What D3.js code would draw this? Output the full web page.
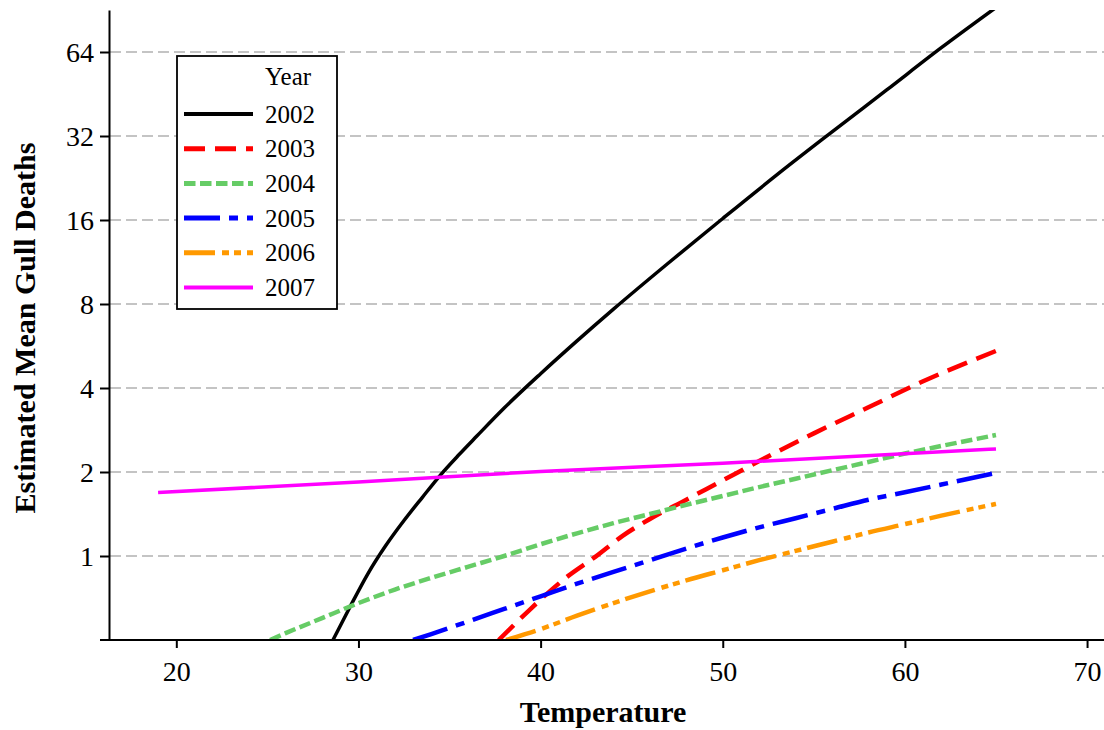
<!DOCTYPE html>
<html>
<head>
<meta charset="utf-8">
<script src="https://cdn.jsdelivr.net/npm/d3@7"></script>
<style>
  html, body { margin: 0; padding: 0; background: #fff; }
  svg { display: block; }
</style>
</head>
<body>
<svg id="chart" width="1104" height="730"></svg>
<script>
// Estimated mean gull deaths by temperature, one curve per year
const years = ["2002", "2003", "2004", "2005", "2006", "2007"];

const temp2002   = [28.6, 29.5, 30.5, 31.5, 32.5, 33.5, 34.5, 35.5, 36.5, 38, 40, 42, 44, 47, 50, 53, 56, 59, 62, 65];
const deaths2002 = [0.50, 0.65, 0.86, 1.09, 1.34, 1.62, 1.95, 2.30, 2.69, 3.39, 4.50, 5.90, 7.67, 11.2, 16.2, 23.3, 33.1, 46.8, 66.3, 92.4];

const temp2003   = [37.7, 38.5, 39.5, 40.5, 41.5, 43, 44.5, 46, 48, 50, 52, 55, 58, 61, 65];
const deaths2003 = [0.50, 0.563, 0.651, 0.747, 0.847, 0.993, 1.181, 1.357, 1.591, 1.866, 2.188, 2.751, 3.411, 4.228, 5.43];

const temp2004   = [25.15, 26, 28, 30, 32, 34, 36, 38, 40, 42, 44, 46, 48, 50, 52, 54, 56, 58, 60, 62, 65];
const deaths2004 = [0.500, 0.529, 0.599, 0.678, 0.758, 0.835, 0.914, 1.000, 1.102, 1.206, 1.311, 1.414, 1.526, 1.641, 1.766, 1.892, 2.028, 2.173, 2.329, 2.479, 2.713];

const temp2005   = [33, 34, 36, 38, 40, 42, 44, 46, 48, 50, 52, 54, 56, 58, 60, 62, 65];
const deaths2005 = [0.500, 0.525, 0.582, 0.646, 0.717, 0.796, 0.877, 0.966, 1.064, 1.165, 1.266, 1.366, 1.474, 1.591, 1.693, 1.803, 1.986];

const temp2006   = [38.1, 40, 42, 44, 46, 48, 50, 52, 54, 56, 58, 60, 62, 65];
const deaths2006 = [0.500, 0.547, 0.611, 0.678, 0.747, 0.818, 0.889, 0.966, 1.043, 1.125, 1.214, 1.301, 1.395, 1.537];

const temp2007   = [19, 30, 40, 50, 65];
const deaths2007 = [1.69, 1.84, 2.01, 2.15, 2.42];

const yTicks = [1, 2, 4, 8, 16, 32, 64];
const xTicks = [20, 30, 40, 50, 60, 70];

// line styles per year (same order as years)
const lineColors = ["#000000", "#ff0000", "#66cc66", "#0000ff", "#ff9900", "#ff00ff"];
const lineDashes = [null, "21,10", "11.5,4.5", "36,9,9,9", "31,7,7,5,7,6", null];
const lineWidths = [3.5, 4.5, 4.5, 4.5, 4.5, 3.5];

const seriesTemps  = [temp2002, temp2003, temp2004, temp2005, temp2006, temp2007];
const seriesDeaths = [deaths2002, deaths2003, deaths2004, deaths2005, deaths2006, deaths2007];

const series = years.map((yr, i) => ({
    year: yr,
    points: seriesTemps[i].map((t, j) => ({ t: t, v: seriesDeaths[i][j] }))
}));

const svg = d3.select("#chart");
const FONT = "'Liberation Serif', 'Times New Roman', serif";

const plotL = 109, plotR = 1104, plotT = 10, plotB = 640;

const x = d3.scaleLinear().domain([16.305, 70.93]).range([plotL, plotR]);
const y = d3.scaleLog().base(2).domain([0.5, Math.pow(2, 6.5)]).range([plotB, plotT]);

// horizontal dashed grid
svg.append("g").selectAll("line")
    .data(yTicks)
    .join("line")
    .attr("x1", plotL + 1).attr("x2", plotR)
    .attr("y1", d => y(d)).attr("y2", d => y(d))
    .attr("stroke", "#c4c4c4")
    .attr("stroke-width", 2)
    .attr("stroke-dasharray", "11,5");

// curves, clipped to the plot area
svg.append("clipPath").attr("id", "plotclip")
    .append("rect").attr("x", plotL).attr("y", plotT)
    .attr("width", plotR - plotL).attr("height", plotB - plotT);

const line = d3.line()
    .x(d => x(d.t))
    .y(d => y(d.v))
    .curve(d3.curveMonotoneX);

svg.append("g").attr("clip-path", "url(#plotclip)")
    .selectAll("path")
    .data(series)
    .join("path")
    .attr("d", d => line(d.points))
    .attr("fill", "none")
    .attr("stroke", (d, i) => lineColors[i])
    .attr("stroke-width", (d, i) => lineWidths[i])
    .attr("stroke-dasharray", (d, i) => lineDashes[i]);

// y axis
const yAxisG = svg.append("g").attr("transform", `translate(${plotL},0)`)
    .call(d3.axisLeft(y).tickValues(yTicks).tickFormat(d3.format("d")).tickSizeInner(9).tickSizeOuter(0).tickPadding(6));
yAxisG.select(".domain").attr("stroke", "#000").attr("stroke-width", 2);
yAxisG.selectAll(".tick line").attr("stroke", "#000").attr("stroke-width", 2);
yAxisG.selectAll(".tick text")
    .attr("font-family", FONT).attr("font-size", "28px").attr("fill", "#000")
    .attr("dy", "0.34em");

// x axis
const xAxisG = svg.append("g").attr("transform", `translate(0,${plotB})`)
    .call(d3.axisBottom(x).tickValues(xTicks).tickSizeInner(8).tickSizeOuter(0).tickPadding(13));
xAxisG.select(".domain").remove();
xAxisG.append("line").attr("x1", 100).attr("x2", plotR).attr("y1", 0).attr("y2", 0)
    .attr("stroke", "#000").attr("stroke-width", 2);
xAxisG.selectAll(".tick line").attr("stroke", "#000").attr("stroke-width", 2);
xAxisG.selectAll(".tick text")
    .attr("font-family", FONT).attr("font-size", "28px").attr("fill", "#000");

// axis titles
svg.append("text")
    .attr("x", 603).attr("y", 722)
    .attr("text-anchor", "middle")
    .attr("font-family", FONT).attr("font-size", "30px").attr("font-weight", "bold")
    .text("Temperature");

svg.append("text")
    .attr("transform", "translate(35,328) rotate(-90)")
    .attr("text-anchor", "middle")
    .attr("font-family", FONT).attr("font-size", "30px").attr("font-weight", "bold")
    .text("Estimated Mean Gull Deaths");

// legend
const lg = svg.append("g");
lg.append("rect")
    .attr("x", 177).attr("y", 56).attr("width", 160).attr("height", 253)
    .attr("fill", "#fff").attr("stroke", "#000").attr("stroke-width", 1.8);
lg.append("text")
    .attr("x", 265).attr("y", 85)
    .attr("font-family", FONT).attr("font-size", "25px").attr("fill", "#000")
    .text("Year");

const rowY = i => 114 + i * 34.7;
lg.selectAll("line.key")
    .data(years)
    .join("line")
    .attr("class", "key")
    .attr("x1", 184).attr("x2", 253)
    .attr("y1", (d, i) => rowY(i)).attr("y2", (d, i) => rowY(i))
    .attr("stroke", (d, i) => lineColors[i])
    .attr("stroke-width", (d, i) => lineWidths[i] + 0.5)
    .attr("stroke-dasharray", (d, i) => lineDashes[i]);
lg.selectAll("text.key")
    .data(years)
    .join("text")
    .attr("class", "key")
    .attr("x", 265).attr("y", (d, i) => rowY(i) + 8.5)
    .attr("font-family", FONT).attr("font-size", "25px").attr("fill", "#000")
    .text(d => d);
</script>
</body>
</html>
